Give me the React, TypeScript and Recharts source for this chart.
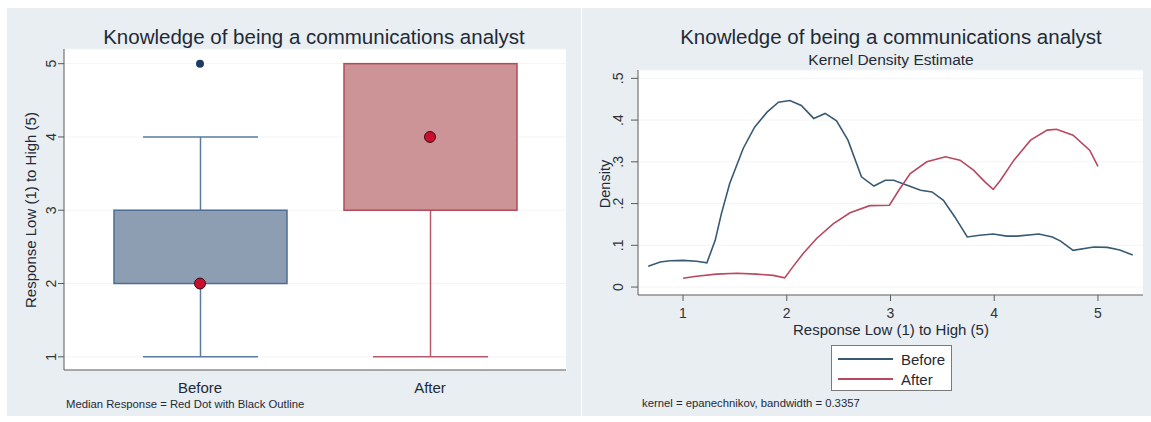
import React from "react";
import {
  ComposedChart,
  LineChart,
  Bar,
  Scatter,
  Line,
  XAxis,
  YAxis,
  CartesianGrid,
  Legend,
} from "recharts";

// box plot (left panel)
const categories = ["Before", "After"];
const whiskerLow = [1, 1];
const quartile1 = [2, 3];
const medians = [2, 4];
const quartile3 = [3, 5];
const whiskerHigh = [4, 5];
const outliers: (number | null)[] = [5, null];
const boxTicks = [1, 2, 3, 4, 5];

// kernel density (right panel)
const beforeX = [0.665, 0.78, 0.875, 1.0, 1.13, 1.23, 1.31, 1.37, 1.45, 1.58, 1.69, 1.81, 1.92, 2.03, 2.14, 2.26, 2.37, 2.48, 2.59, 2.72, 2.84, 2.95, 3.03, 3.16, 3.29, 3.4, 3.51, 3.62, 3.74, 3.86, 3.99, 4.12, 4.22, 4.43, 4.56, 4.64, 4.76, 4.96, 5.09, 5.21, 5.335];
const beforeY = [0.05, 0.06, 0.063, 0.064, 0.062, 0.058, 0.112, 0.176, 0.248, 0.332, 0.383, 0.419, 0.443, 0.447, 0.435, 0.404, 0.416, 0.398, 0.352, 0.264, 0.242, 0.256, 0.256, 0.244, 0.232, 0.228, 0.208, 0.168, 0.12, 0.124, 0.127, 0.122, 0.122, 0.127, 0.12, 0.11, 0.088, 0.096, 0.095, 0.089, 0.077];
const afterX = [1.0, 1.13, 1.32, 1.52, 1.71, 1.87, 1.98, 2.06, 2.16, 2.29, 2.45, 2.61, 2.8, 2.99, 3.08, 3.19, 3.35, 3.53, 3.67, 3.8, 3.91, 3.99, 4.06, 4.19, 4.35, 4.51, 4.6, 4.76, 4.92, 5.0];
const afterY = [0.021, 0.026, 0.031, 0.033, 0.031, 0.028, 0.022, 0.049, 0.081, 0.117, 0.152, 0.178, 0.195, 0.196, 0.232, 0.272, 0.3, 0.312, 0.304, 0.28, 0.252, 0.234, 0.256, 0.304, 0.352, 0.376, 0.378, 0.364, 0.328, 0.289];
const densityXTicks = [1, 2, 3, 4, 5];
const densityYTicks = [0, 0.1, 0.2, 0.3, 0.4, 0.5];
const seriesNames = ["Before", "After"];

const TITLE = "Knowledge of being a communications analyst";
const RESPONSE_LABEL = "Response Low (1) to High (5)";

const FONT = '"Liberation Sans", Arial, Helvetica, sans-serif';
const PANEL_BG = "#e8eef1";
const AXIS = "#5c5c5c";
const TEXT = "#1f2a36";

const boxColors: Record<string, { fill: string; stroke: string; whisker: string }> = {
  Before: { fill: "#8d9eb3", stroke: "#4d6d93", whisker: "#5a7ba0" },
  After: { fill: "#cd9498", stroke: "#b24b5a", whisker: "#b9586a" },
};

const boxRows = categories.map((c, i) => ({
  group: c,
  low: whiskerLow[i],
  q1: quartile1[i],
  median: medians[i],
  q3: quartile3[i],
  high: whiskerHigh[i],
  outlier: outliers[i],
}));

const beforeData = beforeX.map((x, i) => ({ x, y: beforeY[i] }));
const afterData = afterX.map((x, i) => ({ x, y: afterY[i] }));

// box + whiskers drawn from the range bar [low, high]
function BoxShape(props: any) {
  const { x, y, width, height, payload } = props;
  const { low, high, q1, q3 } = payload;
  const c = boxColors[payload.group];
  const unit = height / (high - low);
  const py = (v: number) => y + (high - v) * unit;
  const cx = x + width / 2;
  const cap = width * 0.665;
  return (
    <g>
      <line x1={cx} x2={cx} y1={py(q1)} y2={py(low)} stroke={c.whisker} strokeWidth={1.5} />
      <line x1={cx - cap / 2} x2={cx + cap / 2} y1={py(low)} y2={py(low)} stroke={c.whisker} strokeWidth={1.5} />
      {high > q3 && (
        <>
          <line x1={cx} x2={cx} y1={py(high)} y2={py(q3)} stroke={c.whisker} strokeWidth={1.5} />
          <line x1={cx - cap / 2} x2={cx + cap / 2} y1={py(high)} y2={py(high)} stroke={c.whisker} strokeWidth={1.5} />
        </>
      )}
      <rect x={x} y={py(q3)} width={width} height={py(q1) - py(q3)} fill={c.fill} stroke={c.stroke} strokeWidth={1.5} />
    </g>
  );
}

function MedianDot(props: any) {
  const { cx, cy } = props;
  if (!Number.isFinite(cx) || !Number.isFinite(cy)) return <g />;
  return <circle cx={cx} cy={cy} r={5.5} fill="#c8102e" stroke="#3d0a12" strokeWidth={1} />;
}

function OutlierDot(props: any) {
  const { cx, cy, payload } = props;
  if (payload?.outlier == null || !Number.isFinite(cy)) return <g />;
  return <circle cx={cx} cy={cy} r={4} fill="#1f3b63" />;
}

function RotTick(props: any) {
  const { x, y, payload, shift, fmt } = props;
  const tx = x - shift;
  return (
    <text
      x={tx}
      y={y}
      transform={`rotate(-90 ${tx} ${y})`}
      textAnchor="middle"
      dominantBaseline="central"
      fontSize={14}
      fontFamily={FONT}
      fill="#333"
    >
      {fmt(payload.value)}
    </text>
  );
}

const densityFmt = (v: number) => (v === 0 ? "0" : v.toFixed(1).replace(/^0/, ""));

function DensityLegend(props: any) {
  const items = [...(props.payload || [])].sort(
    (a: any, b: any) => seriesNames.indexOf(a.value) - seriesNames.indexOf(b.value)
  );
  return (
    <div
      style={{
        width: 121,
        height: 46,
        boxSizing: "border-box",
        border: "1px solid #7a7a7a",
        background: "#fff",
        padding: "3px 0 0 6px",
        fontFamily: FONT,
      }}
    >
      {items.map((p: any) => (
        <div key={p.value} style={{ display: "flex", alignItems: "center", height: 20 }}>
          <span style={{ width: 55, height: 0, borderTop: `2px solid ${p.color}`, marginRight: 8 }} />
          <span style={{ fontSize: 15, color: TEXT }}>{p.value}</span>
        </div>
      ))}
    </div>
  );
}

function Txt({ x, y, size, children, rotate = false, anchor = "middle" }: any) {
  return (
    <div
      style={{
        position: "absolute",
        left: x,
        top: y,
        fontSize: size,
        lineHeight: 1,
        whiteSpace: "nowrap",
        color: TEXT,
        fontFamily: FONT,
        transform:
          (anchor === "middle" ? "translate(-50%, -50%)" : "translate(0, -50%)") +
          (rotate ? " rotate(-90deg)" : ""),
      }}
    >
      {children}
    </div>
  );
}

export default function App() {
  return (
    <div style={{ position: "absolute", left: 0, top: 0, width: 1151, height: 422, background: "#fff", fontFamily: FONT }}>
      <div style={{ position: "absolute", left: 7, top: 8, width: 574, height: 408, background: PANEL_BG }} />
      <div style={{ position: "absolute", left: 582, top: 8, width: 569, height: 408, background: PANEL_BG }} />

      {/* left: box plot */}
      <div style={{ position: "absolute", left: 7, top: 8 }}>
        <ComposedChart width={573} height={408} data={boxRows} margin={{ top: 41, right: 14, left: 0, bottom: 0 }}>
          <CartesianGrid vertical={false} stroke="#f1f4f6" fill="#fff" />
          <XAxis
            dataKey="group"
            height={46}
            padding={{ left: 21, right: 21 }}
            tickLine={false}
            tickSize={0}
            tickMargin={12}
            stroke={AXIS}
            tick={{ fontSize: 15, fill: TEXT, fontFamily: FONT }}
          />
          <YAxis
            type="number"
            width={57}
            domain={[0.82, 5.2]}
            ticks={boxTicks}
            allowDataOverflow
            tickSize={6}
            tickMargin={2}
            stroke={AXIS}
            tick={(p: any) => <RotTick {...p} shift={5} fmt={(v: number) => String(v)} />}
          />
          <Bar dataKey={(d: any) => [d.low, d.high]} barSize={173} shape={BoxShape} isAnimationActive={false} />
          <Scatter dataKey="outlier" shape={OutlierDot} isAnimationActive={false} />
          <Scatter dataKey="median" shape={MedianDot} isAnimationActive={false} />
        </ComposedChart>
      </div>

      {/* right: kernel density */}
      <div style={{ position: "absolute", left: 583, top: 8 }}>
        <LineChart width={568} height={408} margin={{ top: 62, right: 8, left: 0, bottom: 91 }}>
          <CartesianGrid vertical={false} stroke="#f1f4f6" fill="#fff" />
          <XAxis
            dataKey="x"
            type="number"
            domain={[0.566, 5.434]}
            ticks={densityXTicks}
            allowDataOverflow
            height={30}
            tickSize={6}
            tickMargin={7}
            stroke={AXIS}
            tick={{ fontSize: 14, fill: "#333", fontFamily: FONT }}
          />
          <YAxis
            type="number"
            width={55}
            domain={[-0.019, 0.52]}
            ticks={densityYTicks}
            allowDataOverflow
            tickSize={7}
            tickMargin={2}
            stroke={AXIS}
            tick={(p: any) => <RotTick {...p} shift={11} fmt={densityFmt} />}
          />
          <Legend
            layout="vertical"
            align="center"
            verticalAlign="middle"
            content={DensityLegend}
            wrapperStyle={{ left: 248, top: 337, width: 121, height: 46 }}
          />
          <Line data={beforeData} dataKey="y" name="Before" type="linear" stroke="#385a72" strokeWidth={1.6} dot={false} isAnimationActive={false} />
          <Line data={afterData} dataKey="y" name="After" type="linear" stroke="#b8485e" strokeWidth={1.6} dot={false} isAnimationActive={false} />
        </LineChart>
      </div>

      <Txt x={314} y={37} size={20.5}>{TITLE}</Txt>
      <Txt x={30} y={210} size={15} rotate>{RESPONSE_LABEL}</Txt>
      <Txt x={66} y={405} size={11.3} anchor="start">Median Response = Red Dot with Black Outline</Txt>

      <Txt x={891} y={37} size={20.5}>{TITLE}</Txt>
      <Txt x={891} y={60} size={15.5}>Kernel Density Estimate</Txt>
      <Txt x={891} y={329} size={15}>{RESPONSE_LABEL}</Txt>
      <Txt x={605} y={184} size={14.5} rotate>Density</Txt>
      <Txt x={642} y={404} size={11.3} anchor="start">kernel = epanechnikov, bandwidth = 0.3357</Txt>
    </div>
  );
}
